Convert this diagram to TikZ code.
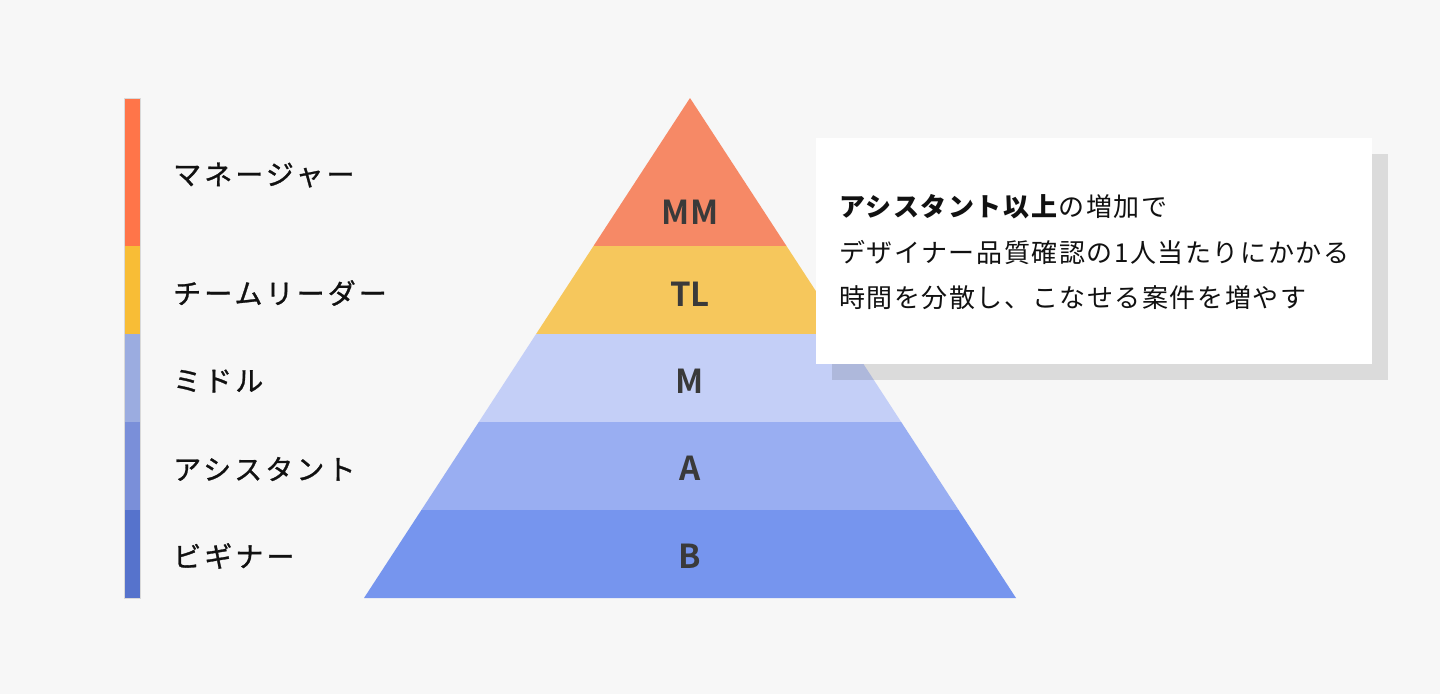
\documentclass[tikz,border=0pt]{standalone}
\usepackage{fontspec}
\setmainfont{Noto Sans CJK JP}[BoldFont={* Bold}]
\newfontfamily\lblfont{Noto Sans CJK JP}[LetterSpace=11,FakeBold=1]
\newfontfamily\boxfont{Noto Sans CJK JP}[LetterSpace=6]
\newfontfamily\lvlfont{Noto Sans CJK JP Bold}
\definecolor{bg}{HTML}{F7F7F7}
\definecolor{cMM}{HTML}{F68966}
\definecolor{cTL}{HTML}{F6C75C}
\definecolor{cM}{HTML}{C4CFF7}
\definecolor{cA}{HTML}{99AEF2}
\definecolor{cB}{HTML}{7695EE}
\definecolor{bMM}{HTML}{FF7549}
\definecolor{bTL}{HTML}{F8BD36}
\definecolor{bM}{HTML}{9BACE0}
\definecolor{bA}{HTML}{7A8FD9}
\definecolor{bB}{HTML}{5673CC}
\definecolor{txt}{HTML}{111111}
\definecolor{lvl}{HTML}{3A3A3A}
\tikzset{
  lbl/.style={anchor=west,inner sep=0pt,text=txt,font=\lblfont\fontsize{28}{32}\selectfont},
  lvltxt/.style={inner sep=0pt,text=lvl,font=\lvlfont\fontsize{33}{38}\selectfont},
  boxline/.style={anchor=west,inner sep=0pt,text=txt,font=\boxfont\fontsize{26}{30}\selectfont},
}
\begin{document}
\begin{tikzpicture}[x=1pt,y=-1pt]
\fill[bg] (0,0) rectangle (1440,694);
\useasboundingbox (0,0) rectangle (1440,694);
% left bar
\fill[bMM] (124,98) rectangle (140,246);
\fill[bTL] (124,246) rectangle (140,334);
\fill[bM] (124,334) rectangle (140,422);
\fill[bA] (124,422) rectangle (140,510);
\fill[bB] (124,510) rectangle (140,598);
\draw[black!15,line width=1pt] (124,98) rectangle (140,598);
% labels
\node[lbl] (lMM) at (173,175) {マネージャー};
\node[lbl] (lTL) at (173,293) {チームリーダー};
\node[lbl] (lM) at (173,381) {ミドル};
\node[lbl] (lA) at (173,469) {アシスタント};
\node[lbl] (lB) at (173,556) {ビギナー};
% pyramid
\fill[cMM] (690,98) -- (786.5,246) -- (593.5,246) -- cycle;
\fill[cTL] (593.5,246) -- (786.5,246) -- (843.9,334) -- (536.1,334) -- cycle;
\fill[cM] (536.1,334) -- (843.9,334) -- (901.2,422) -- (478.8,422) -- cycle;
\fill[cA] (478.8,422) -- (901.2,422) -- (958.6,510) -- (421.4,510) -- cycle;
\fill[cB] (421.4,510) -- (958.6,510) -- (1016,598) -- (364,598) -- cycle;
\node[lvltxt] (tMM) at (690,212) {MM};
\node[lvltxt] (tTL) at (690,294) {TL};
\node[lvltxt] (tM) at (690,381) {M};
\node[lvltxt] (tA) at (690,468) {A};
\node[lvltxt] (tB) at (690,556) {B};
% callout box
\fill[black,opacity=0.11] (832,154) rectangle (1388,380);
\fill[white] (816,138) rectangle (1372,364);
\node[boxline] (b1) at (839,207) {\textbf{アシスタント以上}の増加で};
\node[boxline] (b2) at (839,252) {デザイナー品質確認の1人当たりにかかる};
\node[boxline] (b3) at (839,298) {時間を分散し、こなせる案件を増やす};
\end{tikzpicture}
\end{document}
